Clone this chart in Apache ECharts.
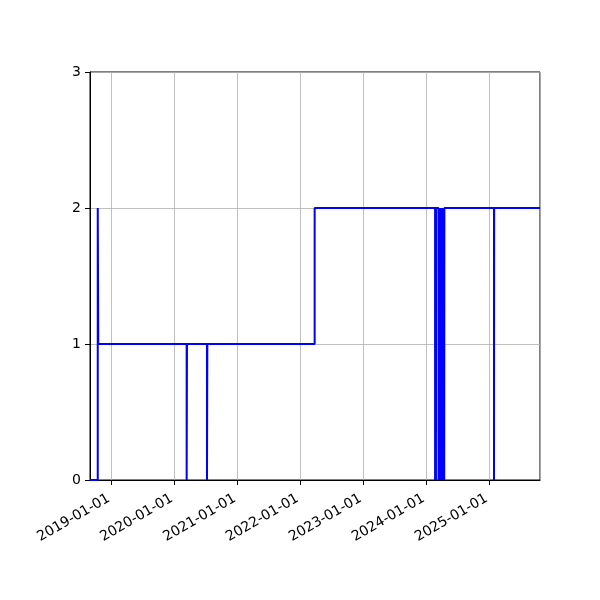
<!DOCTYPE html>
<html>
<head>
<meta charset="utf-8">
<script src="https://cdn.jsdelivr.net/npm/echarts@6/dist/echarts.min.js"></script>
</head>
<body style="margin:0">
<div id="main" style="width:600px;height:600px;"></div>
<script type="text/javascript">
// change dates and the level that holds from each date on
var dates = ['2018-08-29', '2018-10-13', '2018-10-16', '2020-03-12', '2020-03-14',
	'2020-07-08', '2020-07-10', '2022-03-25',
	'2024-02-22', '2024-02-23', '2024-02-27', '2024-02-28',
	'2024-03-13', '2024-03-14', '2024-03-20', '2024-03-21', '2024-03-27', '2024-03-28',
	'2024-04-03', '2024-04-04', '2024-04-10', '2024-04-11', '2024-04-15', '2024-04-16',
	'2025-01-29', '2025-01-30', '2025-10-23'];
var levels = [0, 2, 1, 0, 1,
	0, 1, 2,
	0, 2, 0, 2,
	0, 2, 0, 2, 0, 2,
	0, 2, 0, 2, 0, 2,
	0, 2, 2];
var xMin = '2018-08-29';
var xMax = '2025-10-23';
var yTicks = [0, 1, 2, 3];

var points = [];
for (var i = 0; i < dates.length; i++) {
	points.push([dates[i], levels[i]]);
}

var chart = echarts.init(document.getElementById('main'));
var YEAR = 365 * 24 * 3600 * 1000;
var option = {
	animation: false,
	useUTC: true,
	textStyle: {fontFamily: 'DejaVu Sans'},
	grid: {
		left: 90, right: 60, top: 72, bottom: 120,
		show: true, borderColor: '#000', borderWidth: 1
	},
	xAxis: {
		type: 'time',
		min: xMin,
		max: xMax,
		minInterval: YEAR,
		maxInterval: YEAR,
		axisLine: {lineStyle: {color: '#000', width: 1}},
		axisTick: {show: true, length: 5, lineStyle: {color: '#000'}},
		splitLine: {show: true, lineStyle: {color: '#b0b0b0', width: 0.8}},
		axisLabel: {
			rotate: 30,
			color: '#000',
			fontFamily: 'DejaVu Sans',
			fontSize: 14,
			margin: 16,
			padding: [0, 3, 0, 0],
			showMinLabel: false,
			showMaxLabel: false,
			formatter: function (v) {
				return echarts.time.format(v, '{yyyy}-{MM}-{dd}', true);
			}
		}
	},
	yAxis: {
		type: 'value',
		min: yTicks[0],
		max: yTicks[yTicks.length - 1],
		interval: 1,
		axisLine: {show: true, lineStyle: {color: '#000', width: 1}},
		axisTick: {show: true, length: 5, lineStyle: {color: '#000'}},
		splitLine: {show: true, lineStyle: {color: '#b0b0b0', width: 0.8}},
		axisLabel: {color: '#000', fontFamily: 'DejaVu Sans', fontSize: 14, margin: 9}
	},
	series: [{
		type: 'line',
		step: 'end',
		data: points,
		showSymbol: false,
		lineStyle: {color: '#0000ff', width: 2},
		itemStyle: {color: '#0000ff'}
	}]
};
chart.setOption(option);
</script>
</body>
</html>
